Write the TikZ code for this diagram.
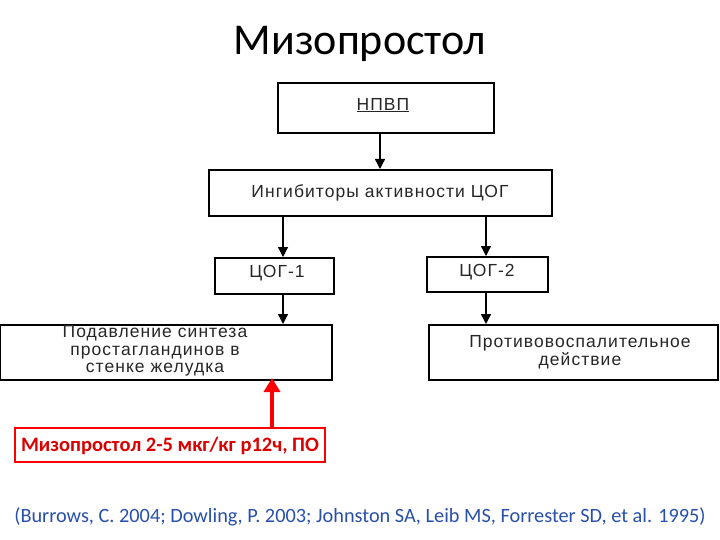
\documentclass[tikz,border=0pt]{standalone}
\usepackage{fontspec}
\setmainfont{Liberation Sans}[LetterSpace=6]
\newfontfamily\calfont{Carlito}
\usetikzlibrary{arrows.meta}
\begin{document}
\begin{tikzpicture}[x=1pt,y=-1pt,
  bx/.style={draw=black,line width=1.6pt},
  txt/.style={font=\fontsize{17.5}{18}\selectfont,align=center,text=black!85},
  arr/.style={-{Triangle[length=10pt,width=10pt]},line width=1.3pt}]
\useasboundingbox (0,0) rectangle (720,540);
\node[font=\calfont\fontsize{44}{46}\selectfont] (title) at (360,44) {Мизопростол};
\draw[bx] (278,83) rectangle (494,133); \node[txt] (n1) at (383,105) {\underline{НПВП}};
\draw[bx] (209,170) rectangle (552,216); \node[txt] (n2) at (380,193) {Ингибиторы активности ЦОГ};
\draw[bx] (215,258) rectangle (334,294); \node[txt] (n3) at (277,273) {ЦОГ-1};
\draw[bx] (427,257) rectangle (548,292); \node[txt] (n4) at (487,272) {ЦОГ-2};
\draw[bx] (0,325) rectangle (332,380); \node[txt,font=\fontsize{17.5}{17.5}\selectfont] (n5) at (155,351) {Подавление синтеза\\простагландинов в\\стенке желудка};
\draw[bx] (429,325) rectangle (718,380); \node[txt] (n6) at (580,352) {Противовоспалительное\\действие};
\coordinate (a1) at (380,133); \coordinate (b1) at (380,169);
\coordinate (a2) at (283,216); \coordinate (b2) at (283,257);
\coordinate (a3) at (486,216); \coordinate (b3) at (486,256);
\coordinate (a4) at (283,294); \coordinate (b4) at (283,324);
\coordinate (a5) at (486,292); \coordinate (b5) at (486,324);
\foreach \i in {1,...,5} \draw[arr] (a\i) -- (b\i);
\draw[draw=red,line width=1.5pt] (15,428) rectangle (325,462);
\node[font=\calfont\bfseries\fontsize{20.5}{21}\selectfont,text=red!85!black] (m) at (170,446) {Мизопростол 2-5 мкг/кг р12ч, ПО};
\coordinate (r0) at (272,428); \coordinate (r1) at (272,378);
\draw[red,line width=4pt,-{Triangle[length=14pt,width=16pt]}] (r0) -- (r1);
\node[font=\calfont\fontsize{20.3}{22}\selectfont,text={rgb,255:red,40;green,80;blue,170}] (cite) at (360,517) {(Burrows, C. 2004; Dowling, P. 2003; Johnston SA, Leib MS, Forrester SD, et al. 1995)};
\end{tikzpicture}
\end{document}
